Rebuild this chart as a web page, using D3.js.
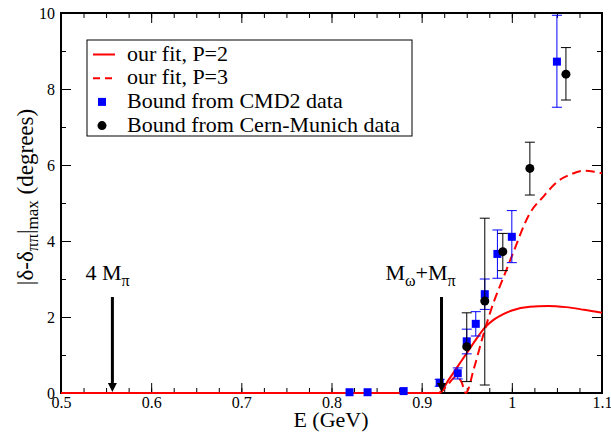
<!DOCTYPE html>
<html>
<head>
<meta charset="utf-8">
<script src="https://cdn.jsdelivr.net/npm/d3@7"></script>
<style>
  body { margin: 0; background: #fff; }
  svg text { font-family: "Liberation Serif", "Times New Roman", serif; fill: #000; }
</style>
</head>
<body>
<div id="chart"></div>
<script>
// fit curves
var fitE2 = [0.5, 0.919, 0.93, 0.94, 0.95, 0.96, 0.97, 0.98, 0.99, 1.0, 1.02, 1.04, 1.06, 1.08, 1.1];
var fitY2 = [0, 0, 0.35, 0.7, 1.05, 1.4, 1.72, 1.93, 2.07, 2.17, 2.27, 2.29, 2.26, 2.19, 2.11];

var fitE3 = [0.5, 0.919, 0.93, 0.938, 0.944, 0.949, 0.958, 0.968, 0.98, 0.99, 1.0, 1.02, 1.035, 1.05, 1.065, 1.08, 1.09, 1.1];
var fitY3 = [0, 0, 0.25, 0.43, 0.3, 0, 0.65, 1.5, 2.4, 3.0, 3.6, 4.73, 5.17, 5.55, 5.75, 5.85, 5.83, 5.78];

// CMD2 bounds
var cmdE  = [0.82, 0.84, 0.88, 0.92, 0.94, 0.95, 0.96, 0.97, 0.984, 1.0, 1.05];
var cmdY  = [0.02, 0.02, 0.05, 0.27, 0.52, 1.36, 1.82, 2.6, 3.66, 4.11, 8.72];
var cmdLo = [0.02, 0.02, 0.05, 0.18, 0.37, 1.03, 1.5, 2.2, 3.02, 3.43, 7.52];
var cmdHi = [0.02, 0.02, 0.05, 0.36, 0.66, 1.68, 2.14, 3.0, 4.29, 4.8, 9.94];

// Cern-Munich bounds
var cernE  = [0.95, 0.97, 0.99, 1.02, 1.06];
var cernY  = [1.22, 2.42, 3.72, 5.91, 8.39];
var cernLo = [0.30, 0.21, 3.22, 5.21, 7.71];
var cernHi = [2.11, 4.6, 4.2, 6.6, 9.09];

var xTicks = [0.5, 0.6, 0.7, 0.8, 0.9, 1.0, 1.1];
var yTicks = [0, 2, 4, 6, 8, 10];
var xMinor = d3.range(0, 25).map(function(i) { return +(0.5 + i * 0.025).toFixed(3); });
var yMinor = d3.range(0, 11);

var legendLabels = ["our fit, P=2", "our fit, P=3", "Bound from CMD2 data", "Bound from Cern-Munich data"];
var thresholdE = [0.557, 0.922];

var width = 611, height = 433;
var plotL = 61, plotR = 602, plotT = 13, plotB = 393;
var serif = "'Liberation Serif', 'Times New Roman', serif";

var x = d3.scaleLinear().domain([0.5, 1.1]).range([plotL, plotR]);
var y = d3.scaleLinear().domain([0, 10]).range([plotB, plotT]);

var svg = d3.select("#chart").append("svg")
    .attr("width", width)
    .attr("height", height);

// ticks, all pointing into the frame
function axisGroup(axis, tx, ty) {
  var g = svg.append("g")
      .attr("transform", "translate(" + tx + "," + ty + ")")
      .call(axis)
      .attr("font-family", serif)
      .attr("font-size", 16);
  g.select(".domain").remove();
  g.selectAll(".tick line").attr("stroke", "#000").attr("stroke-width", 1);
  g.selectAll("text").attr("fill", "#000");
  return g;
}

axisGroup(d3.axisBottom(x).tickValues(xMinor).tickSize(-5).tickFormat(""), 0, plotB);
axisGroup(d3.axisBottom(x).tickValues(xTicks).tickSize(-10).tickPadding(4)
    .tickFormat(d3.format("")), 0, plotB);
axisGroup(d3.axisTop(x).tickValues(xMinor).tickSize(-5).tickFormat(""), 0, plotT);
axisGroup(d3.axisTop(x).tickValues(xTicks).tickSize(-10).tickFormat(""), 0, plotT);

axisGroup(d3.axisLeft(y).tickValues(yMinor).tickSize(-5).tickFormat(""), plotL, 0);
axisGroup(d3.axisLeft(y).tickValues(yTicks).tickSize(-10).tickPadding(6), plotL, 0);
axisGroup(d3.axisRight(y).tickValues(yMinor).tickSize(-5).tickFormat(""), plotR, 0);
axisGroup(d3.axisRight(y).tickValues(yTicks).tickSize(-10).tickFormat(""), plotR, 0);

svg.append("rect")
    .attr("x", plotL).attr("y", plotT)
    .attr("width", plotR - plotL).attr("height", plotB - plotT)
    .attr("fill", "none").attr("stroke", "#000").attr("stroke-width", 2);

// curves
var line = d3.line()
    .x(function(d) { return x(d[0]); })
    .y(function(d) { return y(d[1]); })
    .curve(d3.curveMonotoneX);

svg.append("path")
    .datum(d3.zip(fitE2, fitY2))
    .attr("d", line)
    .attr("fill", "none").attr("stroke", "#ff0000").attr("stroke-width", 2);

svg.append("path")
    .datum(d3.zip(fitE3, fitY3))
    .attr("d", line)
    .attr("fill", "none").attr("stroke", "#ff0000").attr("stroke-width", 2)
    .attr("stroke-dasharray", "9,5");

// error bars + markers
function drawSet(E, Y, lo, hi, color, shape) {
  var data = E.map(function(e, i) { return { e: e, v: Y[i], lo: lo[i], hi: hi[i] }; });
  var g = svg.append("g");
  var bars = data.filter(function(d) { return d.hi - d.lo > 0.05; });
  g.selectAll("line.bar").data(bars).enter().append("line")
      .attr("x1", function(d) { return x(d.e); }).attr("x2", function(d) { return x(d.e); })
      .attr("y1", function(d) { return y(d.lo); }).attr("y2", function(d) { return y(d.hi); })
      .attr("stroke", color).attr("stroke-width", 1);
  ["lo", "hi"].forEach(function(k) {
    g.selectAll("line.cap" + k).data(bars).enter().append("line")
        .attr("x1", function(d) { return x(d.e) - 5; }).attr("x2", function(d) { return x(d.e) + 5; })
        .attr("y1", function(d) { return y(d[k]); }).attr("y2", function(d) { return y(d[k]); })
        .attr("stroke", color).attr("stroke-width", 1);
  });
  if (shape === "square") {
    g.selectAll("rect").data(data).enter().append("rect")
        .attr("x", function(d) { return x(d.e) - 4; })
        .attr("y", function(d) { return y(d.v) - 4; })
        .attr("width", 8).attr("height", 8)
        .attr("fill", color);
  } else {
    g.selectAll("circle").data(data).enter().append("circle")
        .attr("cx", function(d) { return x(d.e); })
        .attr("cy", function(d) { return y(d.v); })
        .attr("r", 4.5)
        .attr("fill", "#000");
  }
}

drawSet(cmdE, cmdY, cmdLo, cmdHi, "#0000ff", "square");
drawSet(cernE, cernY, cernLo, cernHi, "#000", "circle");

// threshold arrows
thresholdE.forEach(function(e) {
  var ax = x(e);
  svg.append("line")
      .attr("x1", ax).attr("x2", ax)
      .attr("y1", 297).attr("y2", 385)
      .attr("stroke", "#000").attr("stroke-width", 3);
  svg.append("path")
      .attr("d", "M" + (ax - 4.5) + ",383 L" + (ax + 4.5) + ",383 L" + ax + ",392 Z")
      .attr("fill", "#000");
});

var t1 = svg.append("text")
    .attr("x", x(thresholdE[0]) - 27).attr("y", 280)
    .style("font-size", "22px");
t1.append("tspan").text("4 M");
t1.append("tspan").attr("dy", 6).style("font-size", "16px").text("π");

var t2 = svg.append("text")
    .attr("x", x(thresholdE[1]) - 56).attr("y", 280)
    .style("font-size", "22px");
t2.append("tspan").text("M");
t2.append("tspan").attr("dy", 6).style("font-size", "16px").text("ω");
t2.append("tspan").attr("dy", -6).text("+M");
t2.append("tspan").attr("dy", 6).style("font-size", "16px").text("π");

// axis titles
svg.append("text")
    .attr("x", 331).attr("y", 427)
    .attr("text-anchor", "middle")
    .style("font-size", "22px")
    .text("E (GeV)");

var yl = svg.append("text")
    .attr("transform", "translate(33,197) rotate(-90)")
    .attr("text-anchor", "middle")
    .style("font-size", "23px");
yl.append("tspan").text("|δ-δ");
yl.append("tspan").attr("dy", 5).style("font-size", "17px").text("ππ");
yl.append("tspan").attr("dy", -5).text("|");
yl.append("tspan").attr("dy", 5).style("font-size", "17px").text("max");
yl.append("tspan").attr("dy", -5).text(" (degrees)");

// legend
var leg = svg.append("g");
leg.append("rect")
    .attr("x", 87).attr("y", 40).attr("width", 325).attr("height", 96)
    .attr("fill", "#fff").attr("stroke", "#000").attr("stroke-width", 1);

legendLabels.forEach(function(label, i) {
  var by = 60.5 + i * 23.7;
  var cy = by - 6;
  if (i < 2) {
    leg.append("line")
        .attr("x1", 93).attr("x2", 115).attr("y1", cy).attr("y2", cy)
        .attr("stroke", "#ff0000").attr("stroke-width", 2)
        .attr("stroke-dasharray", i === 1 ? "7,5" : null);
  } else if (i === 2) {
    leg.append("rect").attr("x", 98).attr("y", cy - 4).attr("width", 8).attr("height", 8)
        .attr("fill", "#0000ff");
  } else {
    leg.append("circle").attr("cx", 102).attr("cy", cy).attr("r", 4.5).attr("fill", "#000");
  }
  leg.append("text")
      .attr("x", 127).attr("y", by)
      .style("font-size", "22px")
      .text(label);
});
</script>
</body>
</html>
